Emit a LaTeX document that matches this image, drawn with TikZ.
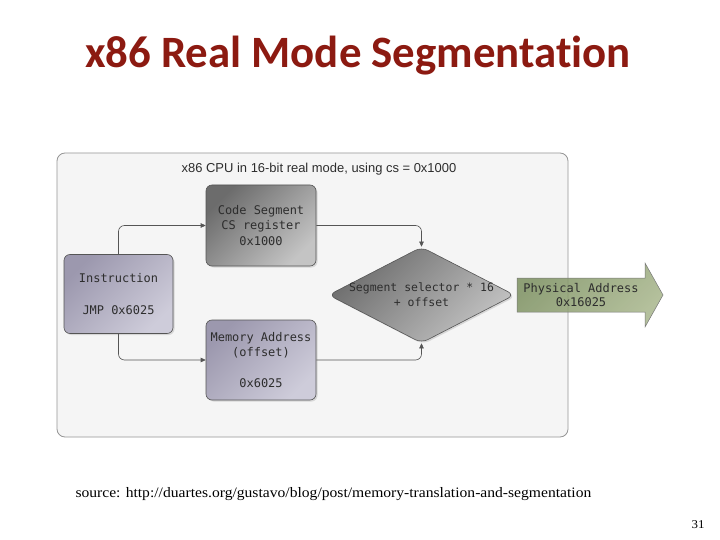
\documentclass[tikz,border=0pt]{standalone}
\usepackage{fontspec}
\setmainfont{Liberation Serif}
\newfontfamily\titlefont[Ligatures={NoCommon}]{Carlito}
\newfontfamily\capfont{Liberation Sans}
\newfontfamily\codefont{DejaVu Sans Mono}
\newfontfamily\notefont[FakeStretch=1.08]{Liberation Serif}
\usetikzlibrary{arrows.meta,shapes.geometric,shadows}

\definecolor{titlered}{RGB}{140,26,17}
\definecolor{framegray}{RGB}{150,150,150}
\definecolor{panelfill}{RGB}{245,245,245}
\definecolor{darkgrayA}{RGB}{108,108,108}
\definecolor{darkgrayB}{RGB}{196,196,196}
\definecolor{lavA}{RGB}{156,152,174}
\definecolor{lavB}{RGB}{206,204,218}
\definecolor{greenA}{RGB}{124,144,96}
\definecolor{greenB}{RGB}{168,182,140}
\definecolor{inktext}{RGB}{45,45,45}
\definecolor{wire}{RGB}{85,85,85}

\tikzset{
  block/.style={draw=wire, line width=0.6bp, rounded corners=6bp,
    minimum width=110bp, minimum height=80bp, inner sep=0pt,
    align=center, text=inktext,
    font=\codefont\fontsize{12}{15.5}\selectfont,
    drop shadow={shadow xshift=1.5bp, shadow yshift=-1.5bp, opacity=0.25}},
  graybox/.style={block, top color=darkgrayA, bottom color=darkgrayB, shading angle=45},
  lavbox/.style={block, top color=lavA, bottom color=lavB, shading angle=45},
  conn/.style={draw=wire, line width=0.6bp, rounded corners=6bp,
    -{Triangle[length=5bp,width=4.5bp]}},
}

\begin{document}
\begin{tikzpicture}[x=1bp,y=-1bp]
\useasboundingbox (0,0) rectangle (720,540);
\fill[white] (0,0) rectangle (720,540);

% slide title
\node[font=\titlefont\bfseries\fontsize{45}{50}\selectfont, text=titlered]
  (title) at (358,56) {x86 Real Mode Segmentation};

% CPU panel
\draw[framegray, fill=panelfill, line width=0.8bp, rounded corners=8bp]
  (57,153) rectangle (568,437);
\node[font=\capfont\fontsize{13}{15}\selectfont, text=inktext]
  (cap) at (319,169) {x86 CPU in 16-bit real mode, using cs = 0x1000};

% blocks
\node[graybox, minimum height=81bp] (code) at (261,225.5)
  {Code Segment\\CS register\\0x1000};
\node[lavbox, minimum width=109bp, minimum height=79bp,
      font=\codefont\fontsize{12}{16}\selectfont] (instr) at (118.5,294)
  {Instruction\\ \\JMP 0x6025};
\node[lavbox] (mem) at (261,360)
  {Memory Address\\(offset)\\ \\0x6025};

% combining step
\node[diamond, aspect=1.95, draw=wire, line width=0.6bp, rounded corners=7bp,
      minimum width=186bp, minimum height=96bp, inner xsep=-3bp, inner ysep=0pt,
      top color=darkgrayA, bottom color=darkgrayB, shading angle=45,
      drop shadow={shadow xshift=1.5bp, shadow yshift=-1.5bp, opacity=0.25},
      align=center, text=inktext,
      font=\codefont\fontsize{11.5}{15}\selectfont] (seg) at (421.5,295)
  {Segment selector * 16\\+ offset};

% result arrow
\path[draw=wire!80, line width=0.5bp, top color=greenA, bottom color=greenB,
      shading angle=45, fill opacity=0.85]
  (517,278) -- (645,278) -- (645,263) -- (663,295) -- (645,327)
  -- (645,312) -- (517,312) -- cycle;
\node[align=center, text=inktext, font=\codefont\fontsize{12}{15}\selectfont]
  (phys) at (581,295) {Physical Address\\0x16025};

% connectors
\draw[conn] (instr.north) |- (code.west);
\draw[conn] (code.east) -| (seg.north);
\draw[conn] (instr.south) |- (mem.west);
\draw[conn] (mem.east) -| (seg.south);

% footer
\node[anchor=base west, font=\notefont\fontsize{14.5}{16}\selectfont, text=black]
  (src) at (72,497)
  {source: http://duartes.org/gustavo/blog/post/memory-translation-and-segmentation};
\node[anchor=base, font=\notefont\fontsize{12}{14}\selectfont] (pg) at (698,528) {31};
\end{tikzpicture}
\end{document}
